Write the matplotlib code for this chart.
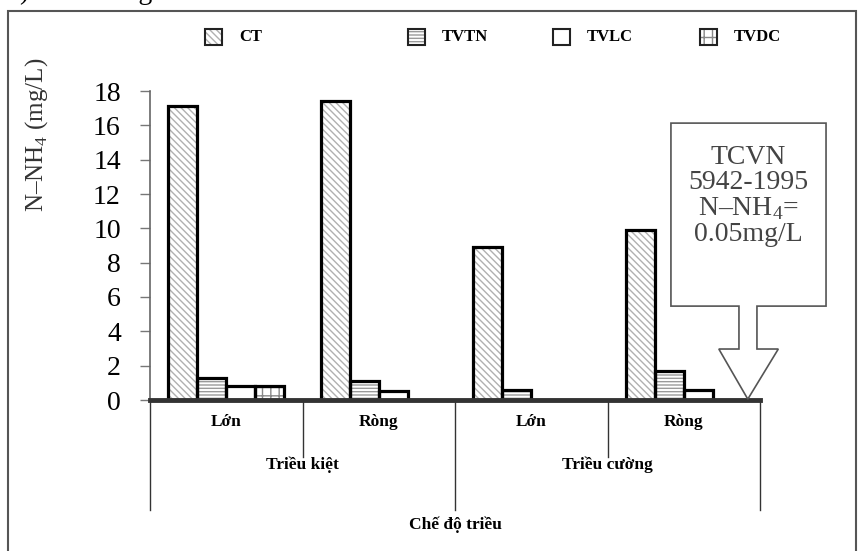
import matplotlib
matplotlib.use("Agg")
import matplotlib.pyplot as plt
from matplotlib.patches import Rectangle, Polygon
import numpy as np

plt.rcParams['font.family'] = ['Liberation Serif', 'DejaVu Serif']
plt.rcParams['mathtext.fontset'] = 'custom'
plt.rcParams['mathtext.rm'] = 'Liberation Serif'
plt.rcParams['hatch.linewidth'] = 1.0

# data
groups = ['Lớn', 'Ròng', 'Lớn', 'Ròng']
tides = ['Triều kiệt', 'Triều cường']
series = ['CT', 'TVTN', 'TVLC', 'TVDC']
ct = [17.1, 17.4, 8.9, 9.9]
tvtn = [1.3, 1.1, 0.6, 1.7]
tvlc = [0.8, 0.5, 0.0, 0.6]
tvdc = [0.8, 0.0, 0.0, 0.0]
standard = 0.05   # TCVN 5942-1995 N-NH4 limit
yticks = [0, 2, 4, 6, 8, 10, 12, 14, 16, 18]

values = [ct, tvtn, tvlc, tvdc]
hatches = ['\\\\\\\\\\', '-----', '', '++']
hatch_col = ['#b0b0b0', '#9a9a9a', '#bbbbbb', '#888888']

W, H = 864, 551
fig = plt.figure(figsize=(W / 100, H / 100), dpi=100)

# outer frame of the figure
fig.patches.append(Rectangle((8 / W, -0.05), 848 / W, 1.05 - 11 / H,
                             transform=fig.transFigure, fill=False,
                             edgecolor='#555555', linewidth=1.5))
# caption text of the page, cut off at the top
fig.text(20 / W, 1 + 1 / H, ') theo tháng', fontsize=20, va='baseline', ha='left')

ax = fig.add_axes([150 / W, 1 - 400 / H, 610 / W, 309 / H])

x = np.arange(len(groups))
bw = 0.19
for i, (vals, h, hc) in enumerate(zip(values, hatches, hatch_col)):
    pos = x + (i - 1.5) * bw
    ax.bar(pos, vals, bw, color='white', edgecolor=hc, hatch=h, linewidth=0, zorder=2)
    ax.bar(pos, vals, bw, fill=False, edgecolor='black', linewidth=2.3, zorder=3)

ax.set_xlim(-0.5, 3.5)
ax.set_ylim(0, 18)
ax.set_yticks(yticks)
ax.set_xticks([])
ax.tick_params(axis='y', direction='out', length=7, width=1, color='#777777',
               pad=14, labelsize=20)
for s in ['top', 'right']:
    ax.spines[s].set_visible(False)
ax.spines['left'].set_color('#666666')
ax.spines['left'].set_linewidth(1.2)
ax.spines['bottom'].set_color('#333333')
ax.spines['bottom'].set_linewidth(3.5)
ax.spines['bottom'].set_zorder(4)

fig.text(37 / W, 1 - 135 / H, r'N–NH$_\mathregular{4}$ (mg/L)', rotation=90,
         ha='center', va='center', fontsize=18, color='#333333')

# multi level category axis
tr = ax.get_xaxis_transform()
for xd in [-0.5, 1.5, 3.5]:
    ax.plot([xd, xd], [0, -0.356], color='#333333', lw=1, transform=tr, clip_on=False)
for xd in [0.5, 2.5]:
    ax.plot([xd, xd], [0, -0.184], color='#333333', lw=1, transform=tr, clip_on=False)
for xi, g in zip(x, groups):
    ax.text(xi, -0.071, g, transform=tr, ha='center', va='center',
            fontsize=12.5, fontweight='bold')
for j, t in enumerate(tides):
    ax.text(0.5 + 2 * j, -0.21, t, transform=tr, ha='center', va='center',
            fontsize=12.5, fontweight='bold')
ax.text(1.5, -0.405, 'Chế độ triều', transform=tr, ha='center', va='center',
        fontsize=12.5, fontweight='bold')

# legend row at the top
leg_x = [205, 408, 553, 700]
for name, lx, h, hc in zip(series, leg_x, hatches, hatch_col):
    fig.patches.append(Rectangle((lx / W, 1 - 45 / H), 17 / W, 16 / H,
                                 transform=fig.transFigure, facecolor='white',
                                 edgecolor=hc, hatch=h, linewidth=0))
    fig.patches.append(Rectangle((lx / W, 1 - 45 / H), 17 / W, 16 / H,
                                 transform=fig.transFigure, fill=False,
                                 edgecolor='#222222', linewidth=1.5))
    fig.text((lx + 34) / W, 1 - 37 / H, name, ha='left', va='center',
             fontsize=12, fontweight='bold')

# callout pointing at the standard value
tip = 2.5 + 0.92
box_l, box_r, box_b, box_t = 2.916, 3.933, 5.47, 16.13
sh_l, sh_r, sh_b = 3.362, 3.48, 2.97
hd_l, hd_r = 3.23, 3.62
callout = [(box_l, box_t), (box_r, box_t), (box_r, box_b), (sh_r, box_b),
           (sh_r, sh_b), (hd_r, sh_b), (tip, standard), (hd_l, sh_b),
           (sh_l, sh_b), (sh_l, box_b), (box_l, box_b)]
ax.add_patch(Polygon(callout, closed=True, facecolor='white', edgecolor='#555555',
                     linewidth=1.2, clip_on=False, zorder=5))
ax.text((box_l + box_r) / 2, 11.9, 'TCVN\n5942-1995\nN–NH$_\\mathregular{4}$=\n0.05mg/L',
        ha='center', va='center', fontsize=20, color='#444444',
        linespacing=1.0, zorder=6)

fig.savefig('out.png', dpi=100)
